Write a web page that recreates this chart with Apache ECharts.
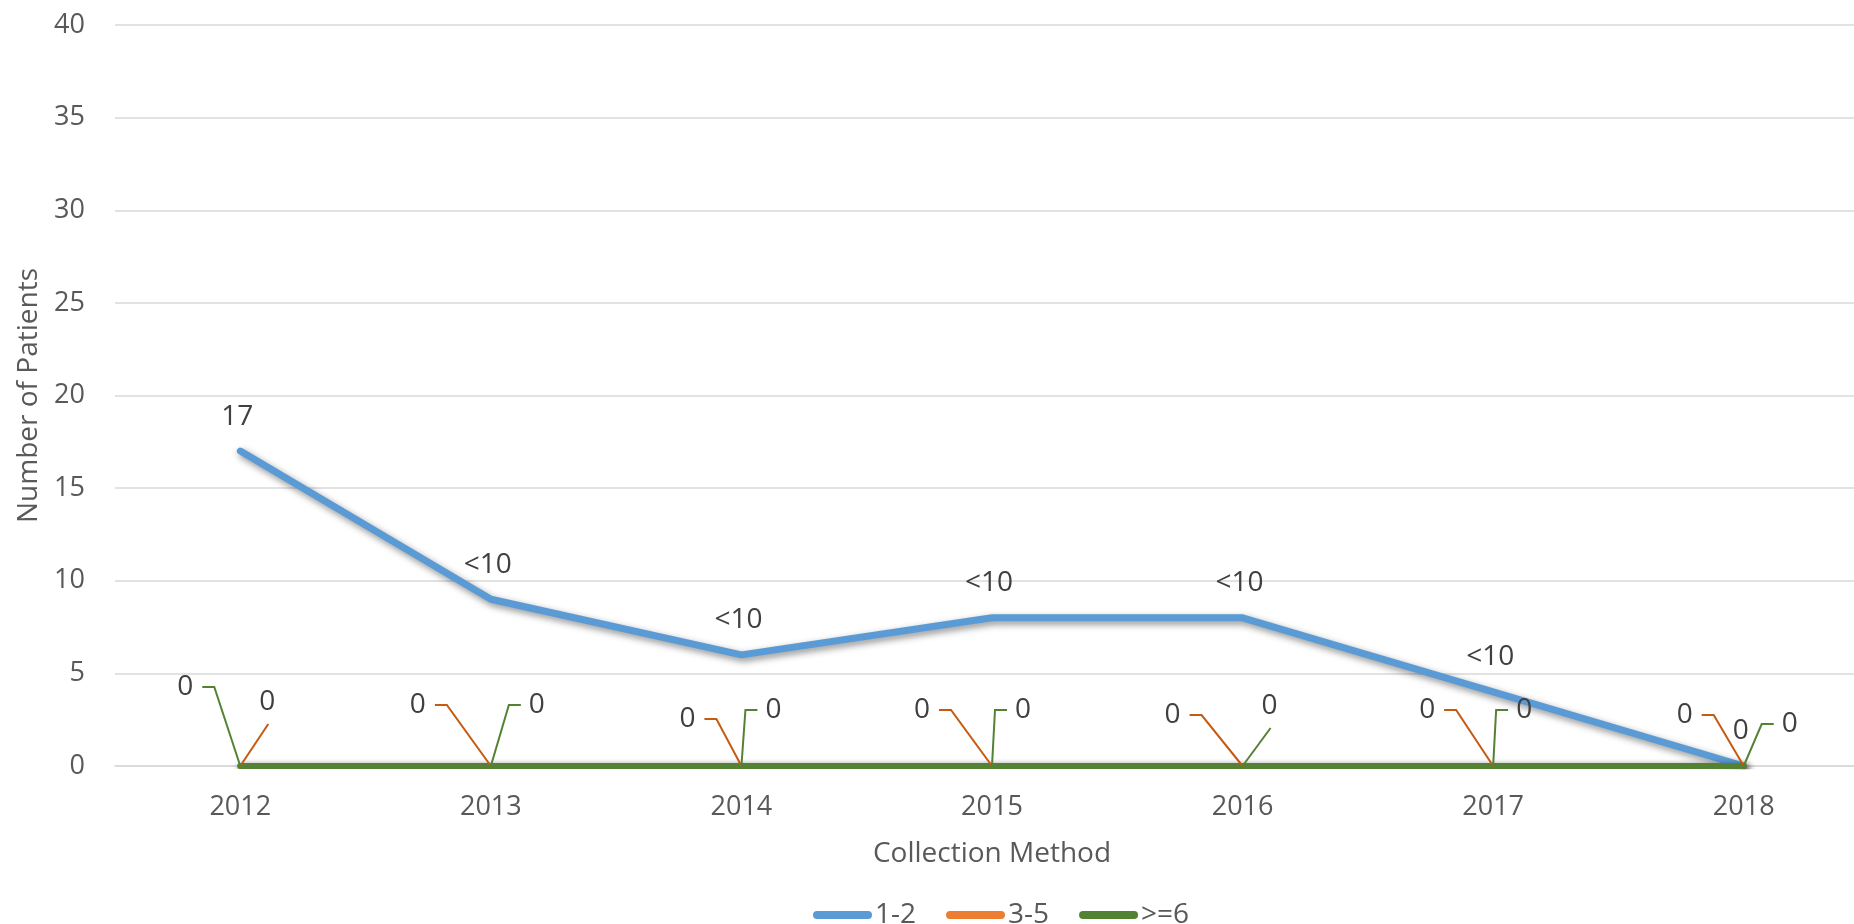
<!DOCTYPE html>
<html><head><meta charset="utf-8">
<script src="https://cdn.jsdelivr.net/npm/echarts@6/dist/echarts.min.js"></script>
<style>html,body{margin:0;padding:0;background:#fff;overflow:hidden;width:1854px;height:924px}#c{width:1869px;height:924px}</style>
</head><body><div id="c"></div>
<script>
// ---- data ----
const categories = ['2012', '2013', '2014', '2015', '2016', '2017', '2018'];
const seriesNames = ['1-2', '3-5', '>=6'];
const values12 = [17, 9, 6, 8, 8, 4, 0];
const labels12 = ['17', '<10', '<10', '<10', '<10', '<10', '0'];
const values35 = [0, 0, 0, 0, 0, 0, 0];
const values6plus = [0, 0, 0, 0, 0, 0, 0];
const yMin = 0, yMax = 40, yInterval = 5;
const xTitle = 'Collection Method';
const yTitle = 'Number of Patients';

// ---- label placement (pixel offsets of label centres from their points) + leader style ----
const offsets35 = [[27, -64], [-73, -61], [-54, -47], [-70, -56], [-70, -51], [-66, -56], [-59, -51]];
const sides35 = ['b', 'r', 'r', 'r', 'r', 'r', 'r'];
const offsets6 = [[-55, -79], [46, -61], [32, -56], [31, -56], [27, -60], [31, -56], [46, -42]];
const sides6 = ['r', 'l', 'l', 'l', 'b', 'l', 'l'];

const FONT = '"Open Sans", "Noto Sans", sans-serif';
const shadow = { shadowColor: 'rgba(0,0,0,0.45)', shadowBlur: 7, shadowOffsetX: 2, shadowOffsetY: 3 };

function leaderRenderer(offs, sides, color) {
  return function (params, api) {
    const i = params.dataIndex;
    const v = api.value(1);
    const p = api.coord([api.value(0), v]);
    const dx = offs[i][0], dy = offs[i][1];
    let pts;
    if (sides[i] === 'b') pts = [p, [p[0] + dx + 1, p[1] + dy + 22]];
    else if (sides[i] === 'r') pts = [p, [p[0] + dx + 29, p[1] + dy], [p[0] + dx + 17, p[1] + dy]];
    else pts = [p, [p[0] + dx - 28, p[1] + dy], [p[0] + dx - 16, p[1] + dy]];
    return {
      type: 'group',
      children: [
        { type: 'polyline', shape: { points: pts }, style: { stroke: color, lineWidth: 2, fill: null } },
        {
          type: 'text', x: p[0] + dx, y: p[1] + dy,
          style: { text: String(v), fill: '#404040', font: '28px ' + FONT, align: 'center', verticalAlign: 'middle' }
        }
      ]
    };
  };
}

const chart = echarts.init(document.getElementById('c'), null, { renderer: 'canvas' });
chart.setOption({
  animation: false,
  backgroundColor: '#ffffff',
  textStyle: { fontFamily: FONT },
  grid: { left: 115, top: 25, bottom: 158, right: 0, containLabel: false },
  legend: {
    data: seriesNames.map(n => ({ name: n })),
    left: 808, top: 896,
    itemWidth: 59, itemHeight: 8, itemGap: 30,
    icon: 'path://M4,0 H55 A4,4 0 0 1 55,8 H4 A4,4 0 0 1 4,0 Z',
    textStyle: { fontFamily: FONT, fontSize: 28, color: '#595959', padding: [0, 0, 0, -2] }
  },
  xAxis: {
    type: 'category', data: categories, boundaryGap: true,
    axisLine: { show: true, lineStyle: { color: '#d9d9d9', width: 1.5 } },
    axisTick: { show: false },
    axisLabel: { margin: 28, fontFamily: FONT, fontSize: 27, color: '#595959' },
    name: xTitle, nameLocation: 'middle', nameGap: 74,
    nameTextStyle: { fontFamily: FONT, fontSize: 28, color: '#595959' }
  },
  yAxis: {
    type: 'value', min: yMin, max: yMax, interval: yInterval,
    axisLine: { show: false }, axisTick: { show: false },
    splitLine: { lineStyle: { color: '#d9d9d9', width: 1.5 } },
    axisLabel: { margin: 30, fontFamily: FONT, fontSize: 27, color: '#595959' },
    name: yTitle, nameLocation: 'middle', nameGap: 72, nameRotate: 90,
    nameTextStyle: { fontFamily: FONT, fontSize: 28, color: '#595959' }
  },
  series: [
    {
      name: seriesNames[0], type: 'line', data: values12,
      symbol: 'circle', symbolSize: 1, showSymbol: true,
      itemStyle: { color: '#5B9BD5' },
      lineStyle: Object.assign({ color: '#5B9BD5', width: 7, cap: 'round', join: 'round' }, shadow),
      label: {
        show: true, position: 'top', distance: 20, offset: [-3, 0],
        fontFamily: FONT, fontSize: 28, color: '#404040',
        formatter: p => labels12[p.dataIndex]
      },
      z: 2
    },
    {
      name: seriesNames[1], type: 'line', data: values35,
      symbol: 'none',
      itemStyle: { color: '#ED7D31' },
      lineStyle: Object.assign({ color: '#ED7D31', width: 6, cap: 'round' }, shadow),
      z: 3
    },
    {
      name: seriesNames[2], type: 'line', data: values6plus,
      symbol: 'none',
      itemStyle: { color: '#548235' },
      lineStyle: Object.assign({ color: '#548235', width: 6, cap: 'round' }, shadow),
      z: 4
    },
    {
      name: 'labels 3-5', type: 'custom', clip: false, silent: true, z: 5,
      data: values35.map((v, i) => [i, v]),
      encode: { x: 0, y: 1 },
      renderItem: leaderRenderer(offsets35, sides35, '#C55A11')
    },
    {
      name: 'labels >=6', type: 'custom', clip: false, silent: true, z: 5,
      data: values6plus.map((v, i) => [i, v]),
      encode: { x: 0, y: 1 },
      renderItem: leaderRenderer(offsets6, sides6, '#548235')
    }
  ]
});
</script>
</body></html>
